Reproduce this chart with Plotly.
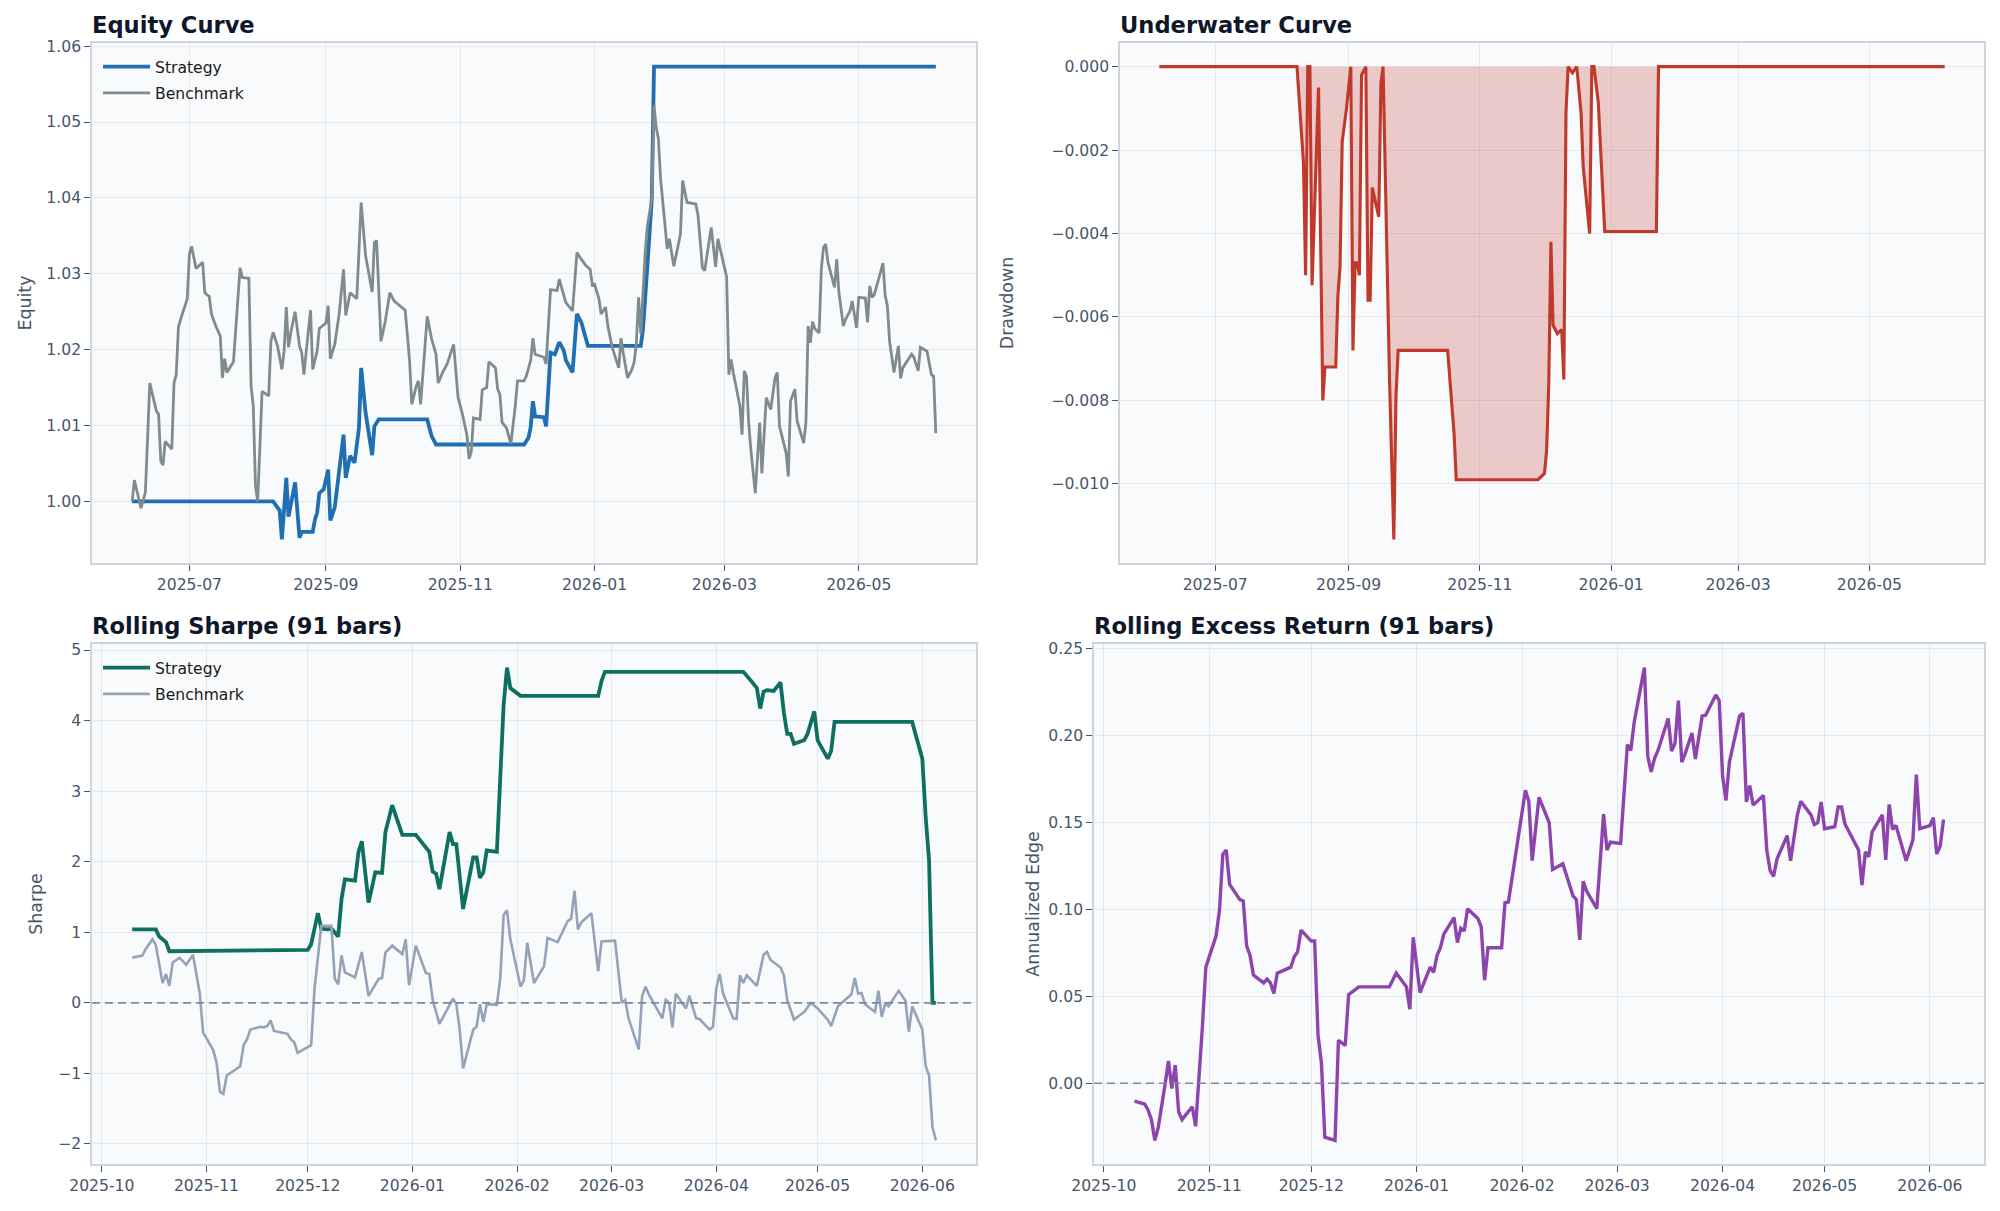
import pandas as pd
import plotly.graph_objects as go

# ---------------- data ----------------
eq_strat_dates = ["2025-06-05","2025-08-08","2025-08-11","2025-08-12","2025-08-14","2025-08-15","2025-08-18",
    "2025-08-20","2025-08-21","2025-08-26","2025-08-27","2025-08-28","2025-08-29","2025-08-31","2025-09-02",
    "2025-09-03","2025-09-05","2025-09-07","2025-09-09","2025-09-10","2025-09-12","2025-09-14","2025-09-16",
    "2025-09-17","2025-09-19","2025-09-22","2025-09-23","2025-09-25","2025-10-17","2025-10-19","2025-10-21",
    "2025-11-30","2025-12-02","2025-12-03","2025-12-04","2025-12-05","2025-12-09","2025-12-10","2025-12-12",
    "2025-12-14","2025-12-16","2025-12-18","2025-12-19","2025-12-22","2025-12-24","2025-12-26","2025-12-29",
    "2026-01-22","2026-01-23","2026-01-25","2026-01-27","2026-01-28","2026-06-05"]
eq_strategy = [1.0, 1.0, 0.9988, 0.9950, 1.0031, 0.9980, 1.0025,
    0.9952, 0.9960, 0.9960, 0.9976, 0.9985, 1.0011, 1.0016, 1.0042,
    0.9975, 0.9992, 1.0036, 1.0088, 1.0031, 1.0060, 1.0051, 1.0097,
    1.0176, 1.0117, 1.0061, 1.0099, 1.0108, 1.0108, 1.0086, 1.0075,
    1.0075, 1.0084, 1.0098, 1.0132, 1.0112, 1.0111, 1.0099, 1.0196,
    1.0194, 1.0210, 1.0199, 1.0186, 1.0170, 1.0247, 1.0236, 1.0205,
    1.0205, 1.0227, 1.0310, 1.0399, 1.0573, 1.0573]

eq_bench_dates = ["2025-06-05","2025-06-06","2025-06-09","2025-06-11","2025-06-13","2025-06-16","2025-06-17",
    "2025-06-18","2025-06-19","2025-06-20","2025-06-23","2025-06-24","2025-06-25","2025-06-26","2025-06-27",
    "2025-06-30","2025-07-01","2025-07-02","2025-07-04","2025-07-07","2025-07-08","2025-07-10","2025-07-11",
    "2025-07-13","2025-07-15","2025-07-16","2025-07-17","2025-07-18","2025-07-21","2025-07-23","2025-07-24",
    "2025-07-25","2025-07-28","2025-07-29","2025-07-30","2025-07-31","2025-08-01","2025-08-03","2025-08-06",
    "2025-08-07","2025-08-08","2025-08-10","2025-08-12","2025-08-13","2025-08-14","2025-08-15","2025-08-16",
    "2025-08-18","2025-08-20","2025-08-21","2025-08-22","2025-08-23","2025-08-25","2025-08-26","2025-08-28",
    "2025-08-29","2025-09-01","2025-09-02","2025-09-03","2025-09-05","2025-09-07","2025-09-09","2025-09-10",
    "2025-09-12","2025-09-15","2025-09-17","2025-09-19","2025-09-22","2025-09-23","2025-09-24","2025-09-26",
    "2025-09-28","2025-09-30","2025-10-02","2025-10-05","2025-10-07","2025-10-09","2025-10-10","2025-10-12",
    "2025-10-13","2025-10-14","2025-10-17","2025-10-19","2025-10-21","2025-10-22","2025-10-24","2025-10-26",
    "2025-10-28","2025-10-29","2025-10-31","2025-11-02","2025-11-04","2025-11-05","2025-11-06","2025-11-07",
    "2025-11-10","2025-11-11","2025-11-13","2025-11-14","2025-11-17","2025-11-18","2025-11-19","2025-11-20",
    "2025-11-22","2025-11-24","2025-11-26","2025-11-27","2025-11-30","2025-12-01","2025-12-03","2025-12-04",
    "2025-12-05","2025-12-09","2025-12-10","2025-12-12","2025-12-15","2025-12-16","2025-12-17","2025-12-19",
    "2025-12-22","2025-12-24","2025-12-26","2025-12-28","2025-12-30","2025-12-31","2026-01-01","2026-01-03",
    "2026-01-04","2026-01-06","2026-01-07","2026-01-09","2026-01-12","2026-01-13","2026-01-14","2026-01-16",
    "2026-01-18","2026-01-19","2026-01-20","2026-01-21","2026-01-22","2026-01-23","2026-01-24","2026-01-25",
    "2026-01-27","2026-01-28","2026-01-29","2026-01-30","2026-01-31","2026-02-03","2026-02-04","2026-02-06",
    "2026-02-09","2026-02-10","2026-02-12","2026-02-16","2026-02-17","2026-02-19","2026-02-20","2026-02-23",
    "2026-02-25","2026-02-26","2026-02-27","2026-03-02","2026-03-03","2026-03-04","2026-03-05","2026-03-08",
    "2026-03-09","2026-03-10","2026-03-11","2026-03-12","2026-03-13","2026-03-15","2026-03-17","2026-03-18",
    "2026-03-20","2026-03-22","2026-03-24","2026-03-25","2026-03-26","2026-03-29","2026-03-30","2026-03-31",
    "2026-04-02","2026-04-03","2026-04-06","2026-04-07","2026-04-08","2026-04-09","2026-04-10","2026-04-11",
    "2026-04-13","2026-04-14","2026-04-15","2026-04-16","2026-04-17","2026-04-20","2026-04-21","2026-04-22",
    "2026-04-24","2026-04-25","2026-04-27","2026-04-28","2026-04-30","2026-05-01","2026-05-04","2026-05-05",
    "2026-05-06","2026-05-07","2026-05-08","2026-05-10","2026-05-12","2026-05-13","2026-05-14","2026-05-15",
    "2026-05-16","2026-05-17","2026-05-19","2026-05-20","2026-05-21","2026-05-25","2026-05-26","2026-05-28",
    "2026-05-29","2026-06-01","2026-06-03","2026-06-04","2026-06-05"]
eq_benchmark = [1.0000,1.0028,0.9991,1.0012,1.0156,1.0119,1.0115,
    1.0053,1.0048,1.0079,1.0069,1.0156,1.0167,1.0230,1.0240,
    1.0267,1.0326,1.0336,1.0307,1.0315,1.0275,1.0270,1.0247,
    1.0231,1.0218,1.0163,1.0188,1.0170,1.0184,1.0275,1.0308,
    1.0295,1.0294,1.0152,1.0126,1.0020,1.0000,1.0145,1.0139,
    1.0211,1.0223,1.0205,1.0174,1.0198,1.0256,1.0203,1.0222,
    1.0250,1.0205,1.0196,1.0167,1.0196,1.0252,1.0174,1.0198,
    1.0228,1.0235,1.0258,1.0188,1.0207,1.0247,1.0306,1.0245,
    1.0275,1.0267,1.0394,1.0324,1.0276,1.0341,1.0344,1.0211,
    1.0238,1.0275,1.0264,1.0256,1.0252,1.0185,1.0128,1.0152,
    1.0159,1.0128,1.0244,1.0214,1.0194,1.0156,1.0170,1.0181,
    1.0198,1.0207,1.0137,1.0115,1.0088,1.0056,1.0065,1.0110,
    1.0108,1.0147,1.0150,1.0184,1.0176,1.0148,1.0141,1.0104,
    1.0097,1.0076,1.0126,1.0159,1.0159,1.0165,1.0186,1.0215,
    1.0194,1.0190,1.0181,1.0279,1.0278,1.0293,1.0282,1.0262,
    1.0251,1.0328,1.0319,1.0311,1.0306,1.0285,1.0286,1.0267,
    1.0247,1.0256,1.0232,1.0203,1.0176,1.0215,1.0196,1.0163,
    1.0174,1.0184,1.0209,1.0269,1.0221,1.0275,1.0328,1.0363,
    1.0399,1.0522,1.0493,1.0478,1.0425,1.0333,1.0346,1.0310,
    1.0352,1.0423,1.0394,1.0392,1.0377,1.0308,1.0304,1.0361,
    1.0309,1.0346,1.0333,1.0296,1.0167,1.0187,1.0170,1.0126,
    1.0088,1.0172,1.0165,1.0104,1.0068,1.0011,1.0104,1.0037,
    1.0137,1.0121,1.0163,1.0170,1.0099,1.0064,1.0033,1.0132,
    1.0148,1.0106,1.0077,1.0104,1.0231,1.0209,1.0237,1.0228,
    1.0222,1.0306,1.0335,1.0339,1.0315,1.0282,1.0319,1.0275,
    1.0231,1.0240,1.0251,1.0264,1.0229,1.0269,1.0268,1.0236,
    1.0284,1.0269,1.0272,1.0294,1.0314,1.0271,1.0258,1.0211,
    1.0187,1.0170,1.0205,1.0162,1.0176,1.0194,1.0190,1.0172,
    1.0203,1.0198,1.0167,1.0165,1.0090]

dd_dates = ["2025-06-05","2025-08-08","2025-08-11","2025-08-12","2025-08-13","2025-08-14","2025-08-15",
    "2025-08-18","2025-08-20","2025-08-21","2025-08-26","2025-08-27","2025-08-28","2025-08-29","2025-08-31",
    "2025-09-02","2025-09-03","2025-09-04","2025-09-05","2025-09-06","2025-09-07","2025-09-09","2025-09-10",
    "2025-09-11","2025-09-12","2025-09-15","2025-09-16","2025-09-17","2025-09-20","2025-09-22","2025-09-23",
    "2025-09-24","2025-10-17","2025-10-20","2025-10-21","2025-11-28","2025-12-01","2025-12-02","2025-12-03",
    "2025-12-04","2025-12-05","2025-12-07","2025-12-09","2025-12-10","2025-12-11","2025-12-12","2025-12-14",
    "2025-12-16","2025-12-18","2025-12-19","2025-12-22","2025-12-23","2025-12-24","2025-12-26","2025-12-29",
    "2026-01-22","2026-01-23","2026-06-05"]
drawdown = [0.0, 0.0, -0.0023, -0.0050, 0.0, 0.0, -0.00524,
    -0.0005, -0.0080, -0.0072, -0.0072, -0.0055, -0.0048, -0.0018, -0.0010,
    0.0, -0.0068, -0.0047, -0.0047, -0.0050, -0.0002, 0.0, -0.0056,
    -0.0056, -0.0029, -0.0036, -0.0004, 0.0, -0.0075, -0.01133, -0.0079,
    -0.0068, -0.0068, -0.0088, -0.0099, -0.0099, -0.00975, -0.0092, -0.0076,
    -0.0042, -0.0062, -0.0064, -0.0063, -0.0075, -0.0011, 0.0, -0.00015,
    0.0, -0.0011, -0.0024, -0.0040, 0.0, 0.0, -0.00085, -0.00395,
    -0.00395, 0.0, 0.0]

sh_strat_dates = ["2025-10-10","2025-10-17","2025-10-18","2025-10-20","2025-10-21","2025-12-01","2025-12-02",
    "2025-12-03","2025-12-04","2025-12-05","2025-12-07","2025-12-08","2025-12-10","2025-12-11","2025-12-12",
    "2025-12-15","2025-12-16","2025-12-17","2025-12-19","2025-12-21","2025-12-23","2025-12-24","2025-12-26",
    "2025-12-29","2026-01-02","2026-01-06","2026-01-07","2026-01-08","2026-01-09","2026-01-12","2026-01-13",
    "2026-01-14","2026-01-16","2026-01-19","2026-01-20","2026-01-21","2026-01-22","2026-01-23","2026-01-26",
    "2026-01-28","2026-01-29","2026-01-30","2026-02-02","2026-02-25","2026-02-26","2026-02-27","2026-04-09",
    "2026-04-11","2026-04-13","2026-04-14","2026-04-15","2026-04-16","2026-04-18","2026-04-20","2026-04-21",
    "2026-04-22","2026-04-23","2026-04-24","2026-04-27","2026-04-28","2026-04-30","2026-05-01","2026-05-04",
    "2026-05-05","2026-05-06","2026-05-29","2026-06-01","2026-06-02","2026-06-03","2026-06-04","2026-06-05"]
sharpe_strategy = [1.04, 1.04, 0.94, 0.86, 0.73, 0.75, 0.83,
    1.05, 1.27, 1.05, 1.04, 1.05, 0.94, 1.47, 1.75,
    1.73, 2.13, 2.29, 1.42, 1.85, 1.84, 2.42, 2.80,
    2.38, 2.38, 2.14, 1.86, 1.83, 1.61, 2.42, 2.25,
    2.25, 1.33, 2.06, 2.06, 1.77, 1.85, 2.16, 2.14,
    4.22, 4.75, 4.46, 4.35, 4.35, 4.56, 4.69, 4.69,
    4.58, 4.46, 4.17, 4.41, 4.43, 4.42, 4.54, 4.11,
    3.81, 3.81, 3.67, 3.72, 3.81, 4.13, 3.72, 3.46,
    3.57, 3.98, 3.98, 3.46, 2.63, 2.02, 0.0, 0.0]

sh_bench_dates = ["2025-10-10","2025-10-13","2025-10-14","2025-10-16","2025-10-17","2025-10-19","2025-10-20",
    "2025-10-21","2025-10-22","2025-10-24","2025-10-26","2025-10-28","2025-10-30","2025-10-31","2025-11-03",
    "2025-11-04","2025-11-05","2025-11-06","2025-11-07","2025-11-11","2025-11-12","2025-11-13","2025-11-14",
    "2025-11-17","2025-11-18","2025-11-19","2025-11-20","2025-11-21","2025-11-25","2025-11-26","2025-11-27",
    "2025-11-28","2025-12-02","2025-12-03","2025-12-04","2025-12-05","2025-12-08","2025-12-09","2025-12-10",
    "2025-12-11","2025-12-12","2025-12-15","2025-12-17","2025-12-19","2025-12-22","2025-12-23","2025-12-24",
    "2025-12-26","2025-12-29","2025-12-30","2025-12-31","2026-01-02","2026-01-05","2026-01-06","2026-01-07",
    "2026-01-09","2026-01-13","2026-01-14","2026-01-15","2026-01-16","2026-01-19","2026-01-20","2026-01-21",
    "2026-01-22","2026-01-23","2026-01-26","2026-01-27","2026-01-28","2026-01-29","2026-01-30","2026-02-02",
    "2026-02-03","2026-02-04","2026-02-06","2026-02-09","2026-02-10","2026-02-13","2026-02-16","2026-02-17",
    "2026-02-18","2026-02-19","2026-02-20","2026-02-23","2026-02-25","2026-02-26","2026-03-02","2026-03-04",
    "2026-03-05","2026-03-06","2026-03-09","2026-03-10","2026-03-11","2026-03-12","2026-03-16","2026-03-17",
    "2026-03-18","2026-03-19","2026-03-20","2026-03-23","2026-03-24","2026-03-26","2026-03-27","2026-03-30",
    "2026-03-31","2026-04-01","2026-04-02","2026-04-03","2026-04-06","2026-04-07","2026-04-08","2026-04-09",
    "2026-04-10","2026-04-13","2026-04-15","2026-04-16","2026-04-17","2026-04-20","2026-04-21","2026-04-22",
    "2026-04-24","2026-04-27","2026-04-29","2026-05-01","2026-05-04","2026-05-05","2026-05-07","2026-05-11",
    "2026-05-12","2026-05-13","2026-05-14","2026-05-15","2026-05-18","2026-05-19","2026-05-20","2026-05-21",
    "2026-05-22","2026-05-25","2026-05-27","2026-05-28","2026-05-29","2026-06-01","2026-06-02","2026-06-03",
    "2026-06-04","2026-06-05"]
sharpe_benchmark = [0.64, 0.67, 0.76, 0.90, 0.82, 0.28, 0.41,
    0.24, 0.57, 0.64, 0.54, 0.68, 0.14, -0.42, -0.67,
    -0.85, -1.26, -1.29, -1.03, -0.90, -0.60, -0.52, -0.38,
    -0.34, -0.35, -0.33, -0.25, -0.40, -0.44, -0.52, -0.56,
    -0.71, -0.60, 0.20, 0.64, 1.09, 1.09, 0.34, 0.26,
    0.67, 0.43, 0.36, 0.72, 0.10, 0.34, 0.35, 0.71,
    0.81, 0.69, 0.90, 0.25, 0.81, 0.42, 0.41, 0.04,
    -0.30, 0.06, -0.02, -0.38, -0.93, -0.38, -0.34, -0.02,
    -0.27, -0.02, -0.03, 0.34, 1.24, 1.31, 0.90, 0.23,
    0.32, 0.85, 0.28, 0.52, 0.92, 0.86, 1.16, 1.19,
    1.59, 1.04, 1.14, 1.27, 0.45, 0.87, 0.88, 0.00,
    0.04, -0.22, -0.66, 0.09, 0.23, 0.12, -0.22, 0.04,
    0.00, -0.35, 0.13, -0.08, 0.10, -0.22, -0.23, -0.38,
    -0.34, 0.21, 0.41, 0.13, -0.22, -0.23, 0.39, 0.28,
    0.39, 0.24, 0.68, 0.72, 0.61, 0.50, 0.39, 0.04,
    -0.24, -0.13, 0.00, -0.08, -0.24, -0.33, -0.05, 0.12,
    0.35, 0.13, 0.14, -0.02, -0.13, 0.17, -0.20, -0.01,
    -0.05, 0.17, 0.03, -0.41, -0.05, -0.38, -0.90, -1.03,
    -1.76, -1.95]

ex_dates = ["2025-10-10","2025-10-13","2025-10-14","2025-10-15","2025-10-16","2025-10-17","2025-10-19",
    "2025-10-20","2025-10-21","2025-10-22","2025-10-23","2025-10-24","2025-10-27","2025-10-28","2025-10-30",
    "2025-10-31","2025-11-03","2025-11-04","2025-11-05","2025-11-06","2025-11-07","2025-11-10","2025-11-11",
    "2025-11-12","2025-11-13","2025-11-14","2025-11-17","2025-11-18","2025-11-19","2025-11-20","2025-11-21",
    "2025-11-25","2025-11-26","2025-11-27","2025-11-28","2025-12-01","2025-12-02","2025-12-03","2025-12-04",
    "2025-12-05","2025-12-08","2025-12-09","2025-12-11","2025-12-12","2025-12-15","2025-12-24","2025-12-26",
    "2025-12-29","2025-12-30","2025-12-31","2026-01-02","2026-01-05","2026-01-06","2026-01-07","2026-01-08",
    "2026-01-09","2026-01-12","2026-01-13","2026-01-14","2026-01-15","2026-01-16","2026-01-19","2026-01-20",
    "2026-01-21","2026-01-22","2026-01-26","2026-01-27","2026-01-28","2026-02-02","2026-02-03","2026-02-04",
    "2026-02-06","2026-02-09","2026-02-10","2026-02-13","2026-02-16","2026-02-17","2026-02-18","2026-02-19",
    "2026-02-20","2026-02-23","2026-02-25","2026-02-26","2026-02-27","2026-03-02","2026-03-04","2026-03-05",
    "2026-03-06","2026-03-09","2026-03-10","2026-03-11","2026-03-12","2026-03-13","2026-03-16","2026-03-17",
    "2026-03-18","2026-03-19","2026-03-20","2026-03-21","2026-03-23","2026-03-24","2026-03-26","2026-03-27",
    "2026-03-30","2026-03-31","2026-04-01","2026-04-02","2026-04-03","2026-04-06","2026-04-07","2026-04-08",
    "2026-04-09","2026-04-10","2026-04-13","2026-04-14","2026-04-15","2026-04-16","2026-04-17","2026-04-20",
    "2026-04-21","2026-04-23","2026-04-24","2026-04-27","2026-04-28","2026-04-29","2026-04-30","2026-05-01",
    "2026-05-04","2026-05-05","2026-05-06","2026-05-07","2026-05-11","2026-05-12","2026-05-13","2026-05-14",
    "2026-05-15","2026-05-18","2026-05-19","2026-05-20","2026-05-21","2026-05-22","2026-05-25","2026-05-27",
    "2026-05-28","2026-05-29","2026-06-01","2026-06-02","2026-06-03","2026-06-04","2026-06-05"]
excess_return = [-0.0103, -0.0119, -0.0153, -0.0209, -0.0328, -0.0254, -0.0007,
    0.0128, -0.0030, 0.0105, -0.0164, -0.0209, -0.0135, -0.0247, 0.0330,
    0.0667, 0.0846, 0.0992, 0.1317, 0.1340, 0.1142, 0.1055, 0.1048,
    0.0790, 0.0734, 0.0622, 0.0577, 0.0599, 0.0577, 0.0516, 0.0633,
    0.0667, 0.0727, 0.0756, 0.0880, 0.0817, 0.0817, 0.0274, 0.0117,
    -0.0310, -0.0328, 0.0247, 0.0218, 0.0509, 0.0554, 0.0554, 0.0633,
    0.0554, 0.0426, 0.0839, 0.0521, 0.0667, 0.0637, 0.0734, 0.0779,
    0.0857, 0.0952, 0.0808, 0.0891, 0.0875, 0.1003, 0.0947, 0.0898,
    0.0592, 0.0779, 0.0779, 0.1037, 0.1041, 0.1683, 0.1620, 0.1279,
    0.1643, 0.1497, 0.1228, 0.1261, 0.1077, 0.1055, 0.0824, 0.1160,
    0.1104, 0.1003, 0.1546, 0.1340, 0.1385, 0.1378, 0.1946, 0.1912,
    0.2074, 0.2388, 0.1878, 0.1789, 0.1867, 0.1912, 0.2096, 0.1908,
    0.1952, 0.2199, 0.1845, 0.1894, 0.2013, 0.1863, 0.2110, 0.2114,
    0.2231, 0.2199, 0.1766, 0.1625, 0.1845, 0.2110, 0.2125, 0.1616,
    0.1710, 0.1598, 0.1654, 0.1340, 0.1221, 0.1189, 0.1288, 0.1423,
    0.1279, 0.1542, 0.1620, 0.1542, 0.1486, 0.1497, 0.1616, 0.1463,
    0.1474, 0.1587, 0.1587, 0.1490, 0.1340, 0.1138, 0.1329, 0.1302,
    0.1445, 0.1542, 0.1284, 0.1602, 0.1459, 0.1481, 0.1279, 0.1400,
    0.1773, 0.1463, 0.1481, 0.1526, 0.1317, 0.1362, 0.1515]

# ---------------- styling ----------------
FONT = "DejaVu Sans"
W, H = 2000, 1211
C_STRAT = "#1f6fb2"
C_BENCH = "#7f8c8d"
C_DD = "#c0392b"
C_SH_STRAT = "#0f7062"
C_SH_BENCH = "#94a3b8"
C_EDGE = "#8e44ad"
C_ZERO = "#7b8aa0"
TICK_COL = "#475569"
GRID = "#e2e8f0"
SPINE = "#cbd5e1"
BG = "#f8fafc"

def pad(lo, hi, frac=0.05):
    s = hi - lo
    return [lo - frac * s, hi + frac * s]

def date_pad(dates_lists, frac=0.05):
    allv = pd.to_datetime(sum(dates_lists, []))
    lo, hi = allv.min(), allv.max()
    s = hi - lo
    return [(lo - frac * s).isoformat(), (hi + frac * s).isoformat()]

# panel boxes in pixels: (left, right, top, bottom)
boxes = {
    1: (92, 976, 43, 563),
    2: (1120, 1984, 43, 563),
    3: (92, 976, 644, 1164),
    4: (1094, 1984, 644, 1164),
}

def dom(b):
    l, r, t, btm = b
    return [l / W, r / W], [1 - btm / H, 1 - t / H]

fig = go.Figure()

fig.add_trace(go.Scatter(x=eq_strat_dates, y=eq_strategy, mode="lines", name="Strategy", legendgroup="a",
                         line=dict(color=C_STRAT, width=3.8), xaxis="x", yaxis="y", legend="legend"))
fig.add_trace(go.Scatter(x=eq_bench_dates, y=eq_benchmark, mode="lines", name="Benchmark", legendgroup="b",
                         line=dict(color=C_BENCH, width=2.8), xaxis="x", yaxis="y", legend="legend"))
fig.add_trace(go.Scatter(x=dd_dates, y=drawdown, mode="lines", name="Drawdown", showlegend=False,
                         fill="tozeroy", fillcolor="rgba(192,57,43,0.25)",
                         line=dict(color=C_DD, width=3.1), xaxis="x2", yaxis="y2"))
fig.add_trace(go.Scatter(x=sh_strat_dates, y=sharpe_strategy, mode="lines", name="Strategy", legendgroup="c",
                         line=dict(color=C_SH_STRAT, width=3.8), xaxis="x3", yaxis="y3", legend="legend2"))
fig.add_trace(go.Scatter(x=sh_bench_dates, y=sharpe_benchmark, mode="lines", name="Benchmark", legendgroup="d",
                         line=dict(color=C_SH_BENCH, width=2.6), xaxis="x3", yaxis="y3", legend="legend2"))
fig.add_trace(go.Scatter(x=ex_dates, y=excess_return, mode="lines", name="Excess", showlegend=False,
                         line=dict(color=C_EDGE, width=3.4), xaxis="x4", yaxis="y4"))

tickfont = dict(family=FONT, size=15.6, color=TICK_COL)
common_axis = dict(showline=True, linecolor=SPINE, linewidth=1.6, mirror=True,
                   showgrid=True, gridcolor=GRID, gridwidth=1.2, zeroline=False,
                   ticks="outside", ticklen=6, tickwidth=1.3, tickcolor=TICK_COL,
                   tickfont=tickfont, automargin=False)

top_xr = date_pad([eq_strat_dates, eq_bench_dates])
bot_xr = date_pad([sh_strat_dates, sh_bench_dates, ex_dates])

layout = dict(template="none", width=W, height=H, margin=dict(l=0, r=0, t=0, b=0, pad=0),
              paper_bgcolor="white", plot_bgcolor=BG, font=dict(family=FONT, color=TICK_COL),
              showlegend=True, hovermode=False)

specs = {
    1: dict(xr=top_xr, dtick="M2", tick0="2025-07-01",
            yr=pad(min(eq_strategy + eq_benchmark), max(eq_strategy + eq_benchmark)),
            ydtick=0.01, yfmt=".2f", ytitle="Equity", standoff=10.5),
    2: dict(xr=top_xr, dtick="M2", tick0="2025-07-01",
            yr=pad(min(drawdown), max(drawdown)),
            ydtick=0.002, yfmt=".3f", ytitle="Drawdown", standoff=33),
    3: dict(xr=bot_xr, dtick="M1", tick0="2025-10-01",
            yr=pad(min(sharpe_strategy + sharpe_benchmark), max(sharpe_strategy + sharpe_benchmark)),
            ydtick=1, yfmt="d", ytitle="Sharpe", standoff=10.5),
    4: dict(xr=bot_xr, dtick="M1", tick0="2025-10-01",
            yr=pad(min(excess_return), max(excess_return)),
            ydtick=0.05, yfmt=".2f", ytitle="Annualized Edge", standoff=4),
}

for i in range(1, 5):
    xd, yd = dom(boxes[i])
    sp = specs[i]
    xname = "xaxis" if i == 1 else f"xaxis{i}"
    yname = "yaxis" if i == 1 else f"yaxis{i}"
    anchor_x = "x" if i == 1 else f"x{i}"
    anchor_y = "y" if i == 1 else f"y{i}"
    layout[xname] = dict(common_axis, domain=xd, anchor=anchor_y, type="date",
                         range=sp["xr"], dtick=sp["dtick"], tick0=sp["tick0"],
                         tickformat="%Y-%m")
    layout[yname] = dict(common_axis, domain=yd, anchor=anchor_x, range=sp["yr"],
                         dtick=sp["ydtick"], tick0=0, tickformat=sp["yfmt"],
                         title=dict(text=sp["ytitle"], font=dict(family=FONT, size=17.4, color=TICK_COL),
                                    standoff=sp["standoff"]))

fig.update_layout(**layout)

# titles
titles = {1: "Equity Curve", 2: "Underwater Curve", 3: "Rolling Sharpe (91 bars)",
          4: "Rolling Excess Return (91 bars)"}
for i, t in titles.items():
    xd, yd = dom(boxes[i])
    fig.add_annotation(text=f"<b>{t}</b>", xref="paper", yref="paper", x=xd[0], y=yd[1],
                       xanchor="left", yanchor="bottom", yshift=3, xshift=-2, showarrow=False,
                       font=dict(family=FONT, size=22.6, color="#0f172a"))

# zero reference lines
for i in (3, 4):
    fig.add_shape(type="line", xref=f"x{i} domain", x0=0, x1=1, yref=f"y{i}", y0=0, y1=0,
                  line=dict(color=C_ZERO, width=1.7, dash="8px,5px"), layer="above")

# legends
for name, i in (("legend", 1), ("legend2", 3)):
    xd, yd = dom(boxes[i])
    fig.update_layout({name: dict(x=xd[0] + 6 / W, y=yd[1] - 7 / H, xanchor="left", yanchor="top",
                                  bgcolor="rgba(0,0,0,0)", borderwidth=0, itemwidth=47,
                                  font=dict(family=FONT, size=15.6, color="#1a1a1a"),
                                  tracegroupgap=3)})

fig.write_html("out.html")
